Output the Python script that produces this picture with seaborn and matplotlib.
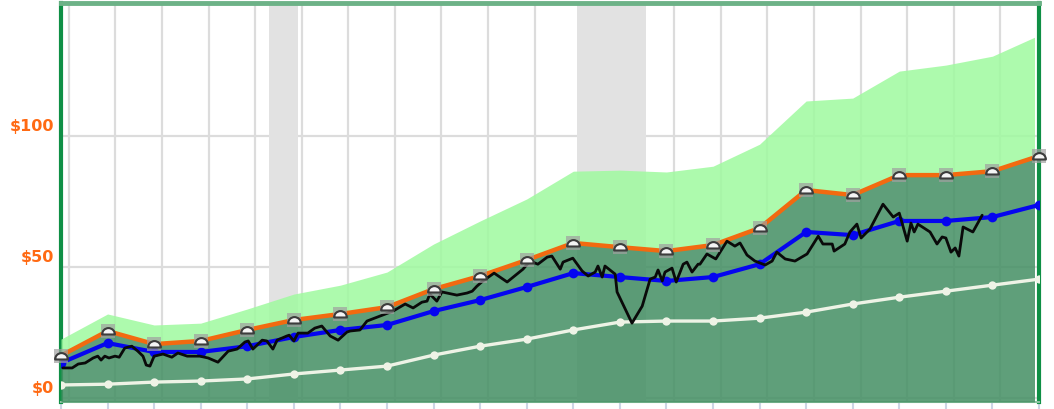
import matplotlib
matplotlib.use("Agg")
import matplotlib.pyplot as plt
from matplotlib.path import Path
from matplotlib.patches import Rectangle
from matplotlib.transforms import ScaledTranslation
import numpy as np
import seaborn as sns

sns.set_style("white")
plt.rcParams['font.family'] = ['DejaVu Sans']

# fiscal periods, one point per year
periods = list(range(22))
high_value = [22.5, 32.1, 27.9, 28.6, 34.0, 39.7, 43.1, 48.1, 58.8, 67.6, 76.0,
              86.6, 87.0, 86.3, 88.5, 96.9, 113.4, 114.5, 124.8, 127.1, 130.5, 138.5]
fair_value = [16.2, 25.6, 20.6, 21.8, 26.0, 29.8, 32.1, 34.7, 41.6, 46.6, 52.7,
              59.2, 57.6, 56.1, 58.4, 64.9, 79.4, 77.5, 85.1, 85.1, 86.6, 92.4]
mid_value = [13.4, 21.0, 17.6, 17.6, 19.8, 23.3, 26.0, 27.9, 33.2, 37.4, 42.4,
             47.7, 46.2, 44.7, 46.2, 51.1, 63.4, 62.2, 67.6, 67.6, 69.1, 73.7]
low_value = [5.0, 5.3, 6.1, 6.5, 7.3, 9.2, 10.7, 12.2, 16.4, 19.8, 22.5,
             26.0, 29.0, 29.4, 29.4, 30.5, 32.8, 35.9, 38.5, 40.8, 43.1, 45.4]

# share price
price_t = [.04, .24, .37, .52, .69, .79, .86, .94, 1.03, 1.16, 1.25, 1.37, 1.52, 1.65, 1.76,
           1.83, 1.91, 2.00, 2.19, 2.38, 2.51, 2.71, 2.98, 3.16, 3.37, 3.59, 3.78, 3.95, 4.02,
           4.12, 4.32, 4.42, 4.55, 4.64, 4.85, 4.90, 5.00, 5.09, 5.30, 5.45, 5.60, 5.78, 5.95,
           6.14, 6.21, 6.42, 6.57, 6.85, 7.13, 7.39, 7.56, 7.75, 7.86, 7.92, 8.07, 8.18, 8.50,
           8.72, 8.83, 8.93, 9.06, 9.30, 9.58, 9.92, 10.07, 10.24, 10.44, 10.54, 10.72, 10.78,
           10.99, 11.19, 11.32, 11.47, 11.53, 11.62, 11.68, 11.90, 11.94, 12.26, 12.48, 12.65,
           12.76, 12.82, 12.91, 12.97, 13.12, 13.21, 13.36, 13.44, 13.55, 13.68, 13.72, 13.87,
           14.06, 14.30, 14.47, 14.58, 14.73, 14.90, 15.12, 15.27, 15.37, 15.55, 15.76, 16.02,
           16.26, 16.36, 16.56, 16.60, 16.83, 16.94, 17.09, 17.18, 17.37, 17.65, 17.87, 18.00,
           18.17, 18.25, 18.32, 18.40, 18.66, 18.81, 18.92, 19.00, 19.11, 19.20, 19.28, 19.37,
           19.58, 19.78]
price = [11.5, 11.5, 13.0, 13.4, 15.3, 16.0, 14.5, 16.0, 15.3, 16.0, 15.6, 19.1, 19.8, 17.9, 16.0,
         12.6, 12.2, 16.0, 16.8, 15.6, 17.2, 16.0, 16.0, 15.3, 13.7, 17.9, 18.7, 21.4, 21.8,
         18.7, 22.1, 21.8, 18.7, 22.1, 23.7, 24.0, 21.8, 24.8, 24.8, 26.7, 27.5, 23.7, 22.1,
         25.2, 25.6, 26.0, 29.4, 31.3, 33.2, 35.9, 34.4, 36.6, 37.0, 39.7, 37.0, 40.5, 39.3,
         40.1, 40.8, 42.7, 44.7, 47.7, 44.3, 49.2, 52.3, 51.1, 53.8, 54.2, 49.2, 51.9,
         53.4, 48.5, 46.6, 48.1, 50.4, 46.2, 50.4, 47.3, 40.5, 28.6, 35.1, 45.4,
         46.2, 48.9, 44.7, 48.1, 49.6, 44.3, 51.1, 51.9, 48.1, 51.1, 51.1, 55.0,
         53.1, 59.9, 58.0, 59.2, 54.6, 52.3, 50.8, 52.3, 55.7, 53.1, 52.3, 55.0,
         61.8, 58.8, 58.8, 56.1, 58.8, 63.4, 66.4, 61.1, 64.5, 74.0, 69.1, 70.6,
         59.9, 66.8, 63.4, 66.4, 63.4, 58.8, 61.5, 61.1, 55.7, 57.3, 54.2, 65.3,
         63.4, 69.8]

recessions = [(4.47, 5.08), (11.08, 12.56)]
y_ticks = [0, 50, 100]
y_labels = ["$0", "$50", "$100"]

fig = plt.figure(figsize=(10.54, 4.10), dpi=100)
ax = fig.add_axes([61 / 1054, (410 - 403) / 410, 978 / 1054, 399 / 410])
ax.set_xlim(0, 21)
ax.set_ylim(-1.5, 150.8)

for start, end in recessions:
    ax.axvspan(start, end, color="#e2e2e2", lw=0, zorder=1)

# grid is offset from the data points
ax.set_xticks(periods)
ax.set_xticks([p + .17 for p in periods[:-1]], minor=True)
ax.set_yticks(y_ticks)
ax.set_yticklabels(y_labels, va="bottom", color="#ff6a13", fontweight="bold", fontsize=11.5)
ax.set_xticklabels([])
ax.grid(True, which="major", axis="y", color="#dcdcdc", lw=1.6, zorder=2)
ax.grid(True, which="minor", axis="x", color="#dcdcdc", lw=1.6, zorder=2)
ax.set_axisbelow(True)
ax.tick_params(axis="x", which="major", length=5, width=1.5, color="#cdd5e5", bottom=True)
ax.tick_params(axis="x", which="minor", length=0)
ax.tick_params(axis="y", length=0, pad=5)

# labels sit a little above their gridlines
for label in ax.get_yticklabels():
    label.set_transform(label.get_transform() + ScaledTranslation(0, 3 / 100, fig.dpi_scale_trans))

# bands stop just short of the right border
clip = Rectangle((0, -2), 20.89, 160, transform=ax.transData)
band = ax.fill_between(periods, fair_value, high_value, color="#9ffa9f", alpha=.85, lw=0, zorder=3)
base = ax.fill_between(periods, -1.5, fair_value, color="#479166", alpha=.87, lw=0, zorder=3)
band.set_clip_path(clip)
base.set_clip_path(clip)

sns.lineplot(x=periods, y=low_value, color="#eef3e6", lw=2.4, marker="o", ms=6, mew=0, zorder=4, ax=ax)
sns.lineplot(x=periods, y=mid_value, color="#0505f0", lw=3, marker="o", ms=7, mew=0, zorder=5, ax=ax)
sns.lineplot(x=periods, y=fair_value, color="#f26a10", lw=3.2, zorder=6, ax=ax)
sns.lineplot(x=price_t, y=price, color="#0a0a0a", lw=2, estimator=None, sort=False, zorder=7, ax=ax)

# dome badges on the orange line
sns.scatterplot(x=periods, y=fair_value, marker="s", s=90, color="#a0a0a0", alpha=.7, lw=0,
                zorder=8, clip_on=False, ax=ax)
sns.scatterplot(x=periods, y=np.array(fair_value) - 1.2, marker=Path.wedge(0, 180), s=85, color="#f4f4f4",
                edgecolor="#3c3c3c", lw=1.5, zorder=9, clip_on=False, ax=ax)

for side in ["left", "right"]:
    ax.spines[side].set_color("#0f8f45")
    ax.spines[side].set_linewidth(3)
ax.spines["top"].set_color("#6db287")
ax.spines["top"].set_linewidth(3.5)
ax.spines["bottom"].set_color("#8cc4a2")
ax.spines["bottom"].set_linewidth(1.5)

fig.savefig("out.png", dpi=100)
